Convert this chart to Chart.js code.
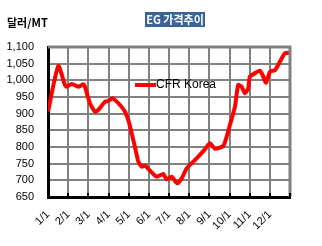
<!DOCTYPE html>
<html>
<head>
<meta charset="utf-8">
<script src="https://cdn.jsdelivr.net/npm/chart.js@4/dist/chart.umd.min.js"></script>
<style>
  html, body { margin: 0; padding: 0; background: #fff; }
  #wrap { width: 322px; height: 246px; position: relative; }
</style>
</head>
<body>
<div id="wrap"><canvas id="egChart"></canvas></div>
<script>
// 월 눈금 (x축 라벨)
const monthLabels = ['1/1', '2/1', '3/1', '4/1', '5/1', '6/1', '7/1', '8/1', '9/1', '10/1', '11/1', '12/1'];

// 위치(월 단위, 0 = 1/1) 와 가격 (달러/MT)
const monthPos = [0, 0.51, 0.84, 0.93, 1.18, 1.5, 1.75, 1.83, 2.08, 2.33, 2.49, 2.83, 2.99, 3.21, 3.57, 3.82, 3.98,
    4.07, 4.31, 4.48, 4.65, 4.81, 5.06, 5.39, 5.72, 5.88, 6.13, 6.41, 6.63, 6.88, 7.37, 7.78, 8.03, 8.28, 8.69,
    8.86, 9.02, 9.27, 9.43, 9.6, 9.77, 9.93, 10.01, 10.26, 10.51, 10.64, 10.81, 11.01, 11.26, 11.5, 11.75, 12];
const cfrKorea = [906, 1043, 986, 981, 989, 981, 988, 981, 931, 906, 911, 936, 938, 946, 926, 906, 881,
    861, 801, 756, 741, 744, 729, 711, 719, 703, 711, 691, 706, 736, 766, 793, 811, 795, 803,
    831, 866, 921, 986, 981, 961, 976, 1011, 1021, 1029, 1016, 993, 1026, 1031, 1056, 1081, 1083];

const yMin = 650;
const yMax = 1100;
const yStep = 50;

// 제목, 단위, 범례, 테두리 그리기
const decorPlugin = {
    id: 'decor',
    afterDatasetsDraw(chart) {
        const ctx = chart.ctx;
        const area = chart.chartArea;
        const xs = chart.scales.x;
        ctx.save();

        // 위/오른쪽 회색 테두리
        ctx.strokeStyle = '#808080';
        ctx.lineWidth = 3;
        ctx.beginPath();
        ctx.moveTo(area.left, area.top);
        ctx.lineTo(area.right, area.top);
        ctx.lineTo(area.right, area.bottom);
        ctx.stroke();

        // 아래쪽 작은 눈금
        ctx.strokeStyle = '#000';
        ctx.lineWidth = 2;
        for (let i = 0; i <= monthLabels.length; i++) {
            const px = Math.round(xs.getPixelForValue(i));
            ctx.beginPath();
            ctx.moveTo(px, area.bottom);
            ctx.lineTo(px, area.bottom - 4);
            ctx.stroke();
        }

        // 범례 (그래프 안쪽)
        const ds = chart.data.datasets[0];
        ctx.strokeStyle = ds.borderColor;
        ctx.lineWidth = 4;
        ctx.beginPath();
        ctx.moveTo(135, 85);
        ctx.lineTo(156, 85);
        ctx.stroke();
        ctx.fillStyle = '#000';
        ctx.font = '12px "Liberation Sans", Arial, sans-serif';
        ctx.textBaseline = 'middle';
        ctx.textAlign = 'left';
        ctx.fillText(ds.label, 156, 85);

        // 제목 상자
        ctx.fillStyle = '#3a6495';
        ctx.fillRect(145, 12, 60, 15);
        ctx.fillStyle = '#fff';
        ctx.font = 'bold 11px "Noto Sans CJK KR", sans-serif';
        ctx.textAlign = 'center';
        ctx.fillText('EG 가격추이', 175, 19.5);

        // 단위
        ctx.fillStyle = '#000';
        ctx.textAlign = 'left';
        ctx.font = 'bold 11px "Noto Sans CJK KR", sans-serif';
        ctx.fillText('달러/MT', 7, 23);

        ctx.restore();
    }
};

const ctx = document.getElementById('egChart').getContext('2d');
new Chart(ctx, {
    type: 'line',
    data: {
        datasets: [{
            label: 'CFR Korea',
            data: monthPos.map((m, i) => ({ x: m, y: cfrKorea[i] })),
            borderColor: '#ff0000',
            borderWidth: 4,
            pointRadius: 0,
            tension: 0.2,
            fill: false
        }]
    },
    options: {
        responsive: true,
        maintainAspectRatio: false,
        animation: false,
        layout: { padding: { top: 47, right: 32, left: 0, bottom: 0 } },
        plugins: {
            legend: { display: false },
            tooltip: { enabled: false }
        },
        scales: {
            x: {
                type: 'linear',
                min: 0,
                max: 12,
                afterFit(scale) { scale.height = 49; },
                afterBuildTicks(scale) {
                    scale.ticks = [];
                    for (let i = 0; i <= monthLabels.length; i++) scale.ticks.push({ value: i });
                },
                ticks: {
                    autoSkip: false,
                    minRotation: 45,
                    maxRotation: 45,
                    padding: 11,
                    color: '#000',
                    font: { family: '"Liberation Sans", Arial, sans-serif', size: 11 },
                    callback: (v) => monthLabels[v] || ''
                },
                grid: { color: '#808080', lineWidth: 2, drawTicks: false },
                border: { color: '#000', width: 3 }
            },
            y: {
                min: yMin,
                max: yMax,
                afterFit(scale) { scale.width = 48; },
                ticks: {
                    stepSize: yStep,
                    padding: 14,
                    color: '#000',
                    font: { family: '"Liberation Sans", Arial, sans-serif', size: 11 },
                    callback: (v) => v.toLocaleString('en-US')
                },
                grid: { color: '#808080', lineWidth: 2, drawTicks: false },
                border: { color: '#000', width: 3 }
            }
        }
    },
    plugins: [decorPlugin]
});
</script>
</body>
</html>
